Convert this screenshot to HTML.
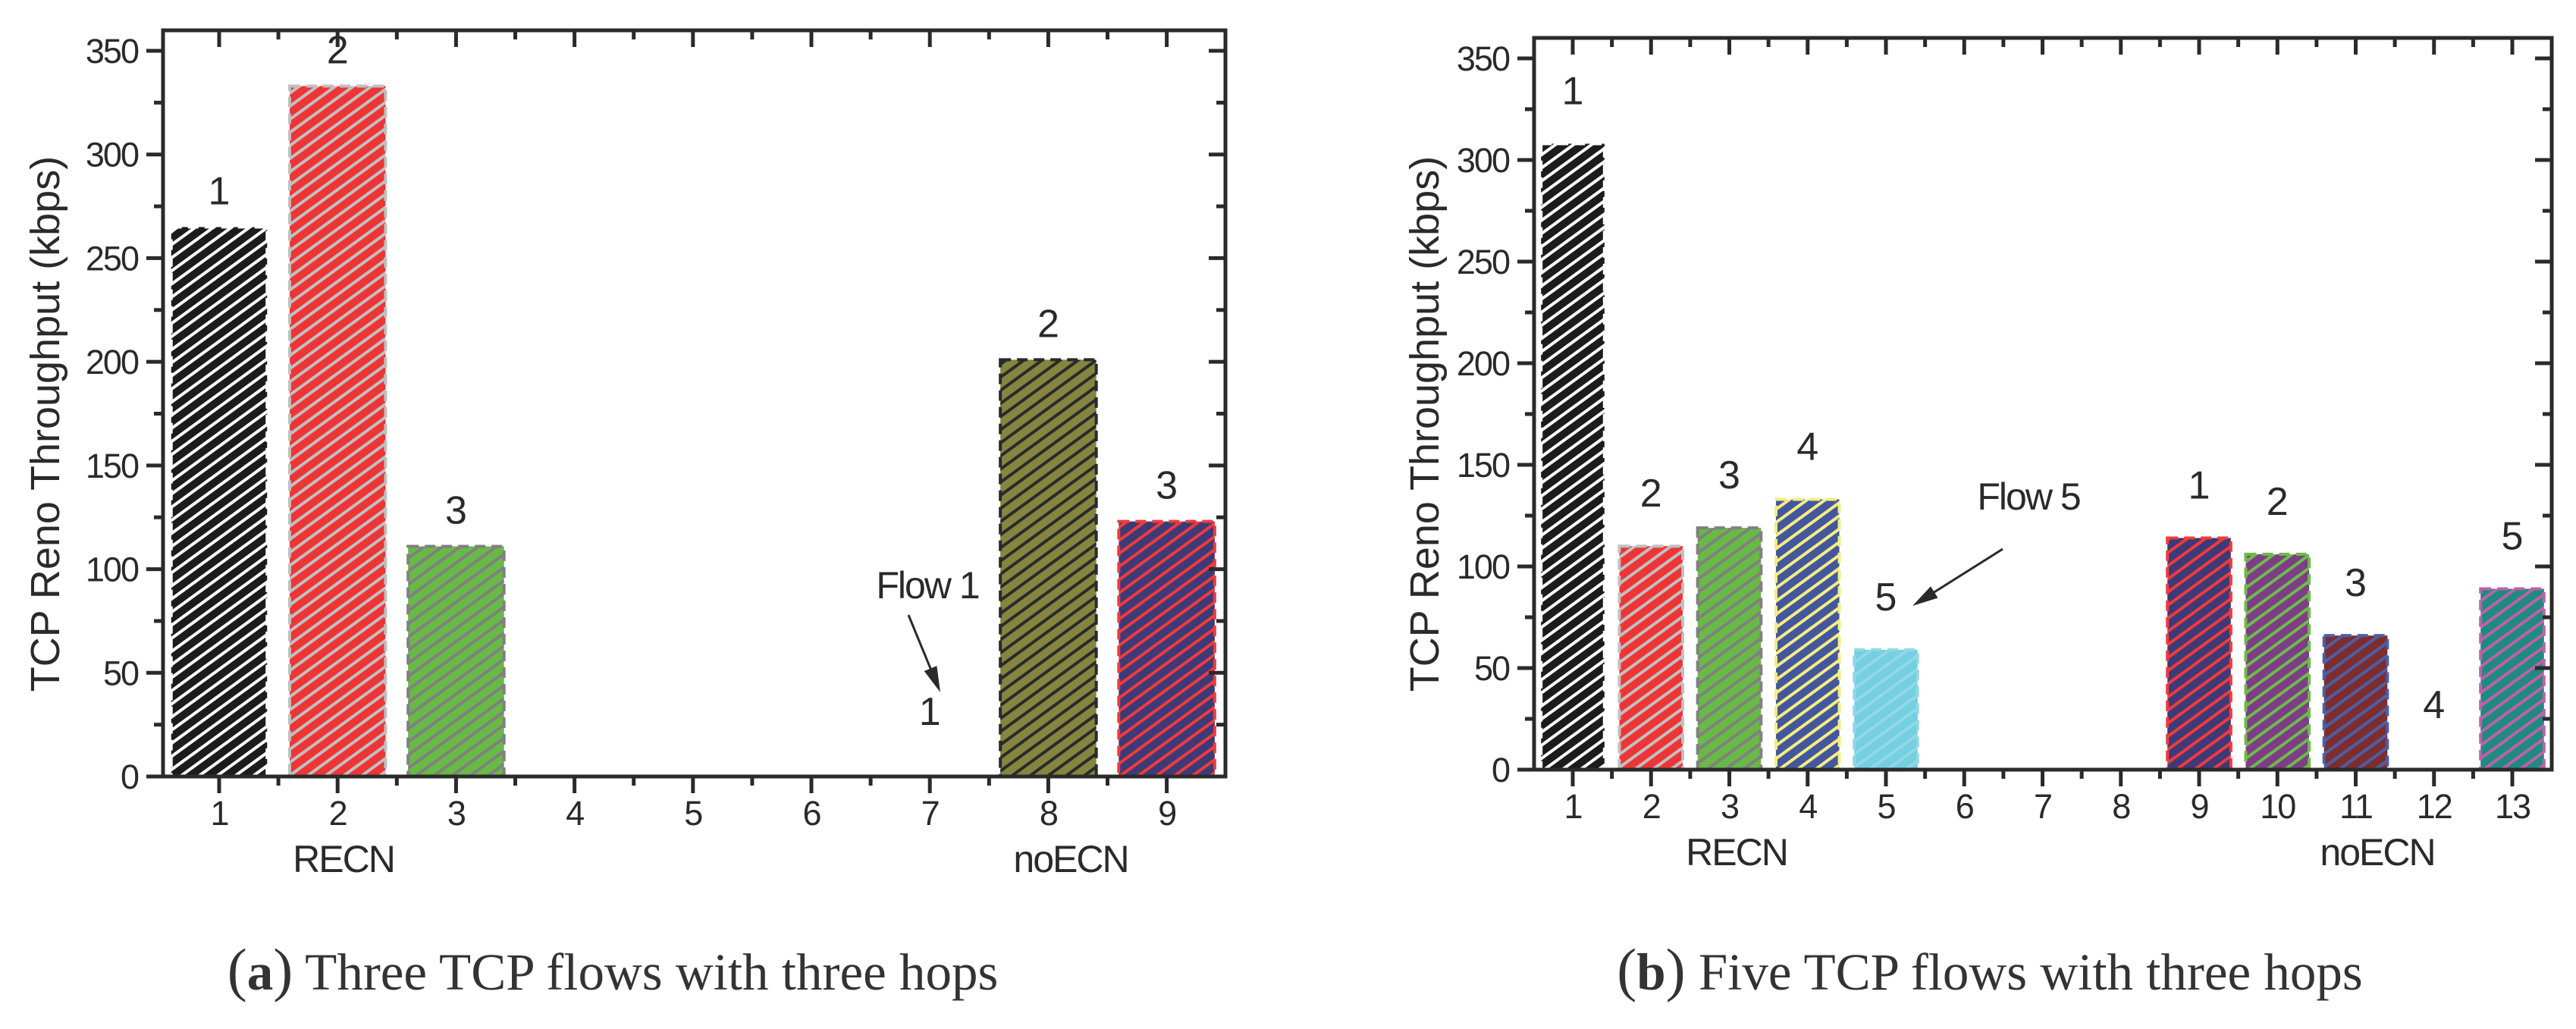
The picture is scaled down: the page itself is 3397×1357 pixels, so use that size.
<!DOCTYPE html>
<html><head><meta charset="utf-8"><style>
html,body{margin:0;padding:0;background:#fff;}
svg{display:block;}
text{font-family:"Liberation Sans",sans-serif;fill:#2a2a2a;}
.cap{font-family:"Liberation Serif",serif;fill:#333;}
</style></head><body>
<svg id="fig" width="3397" height="1357" viewBox="0 0 3397 1357" xmlns="http://www.w3.org/2000/svg">
<defs id="defs"></defs>
</svg>
<script>
// ----- chart (a) data -----
const catsA = [1,2,3,4,5,6,7,8,9];
const valsA = [265,333,111,0,0,0,0,201,123];
const labelsA = ["1","2","3","","","","1","2","3"];
const fillA = ["#1c1c1c","#ee3536","#68b946",null,null,null,null,"#858540","#3d3a78"];
const strA  = ["#ffffff","#c0c0c0","#808080",null,null,null,null,"#2a2a2a","#f23a3a"];
// ----- chart (b) data -----
const catsB = [1,2,3,4,5,6,7,8,9,10,11,12,13];
const valsB = [308,110,119,133,59,0,0,0,114,106,66,0,89];
const labelsB = ["1","2","3","4","5","","","","1","2","3","4","5"];
const fillB = ["#1c1c1c","#ee3536","#68b946","#44579e","#74cfe0",null,null,null,"#3d3a78","#7e3e86","#7e2d2e",null,"#1f8a80"];
const strB  = ["#ffffff","#c0c0c0","#808080","#f5ee80","#92d8e6",null,null,null,"#f23a3a","#6dbb4a","#4a5fa8",null,"#c060a8"];
const yTicks = [0,50,100,150,200,250,300,350];

const NS="http://www.w3.org/2000/svg";
const svg=document.getElementById('fig');
const defs=document.getElementById('defs');
function mk(tag,attrs,parent){const e=document.createElementNS(NS,tag);for(const k in attrs)e.setAttribute(k,attrs[k]);(parent||svg).appendChild(e);return e;}
let pid=0;
function pattern(bg,fg){
  const id='p'+(pid++);
  const p=mk('pattern',{id:id,patternUnits:'userSpaceOnUse',width:14,height:14,patternTransform:'rotate(-36)'},defs);
  mk('rect',{x:0,y:0,width:14,height:14,fill:bg},p);
  mk('rect',{x:0,y:0,width:14,height:4,fill:fg},p);
  return 'url(#'+id+')';
}

function chart(cfg){
  const g=mk('g',{});
  
  
  const xS=v=>cfg.x1+(v-1)*cfg.unit;
  const yS=v=>cfg.y0-v*cfg.py;
  const L=cfg.left,R=cfg.right,T=cfg.top,B=cfg.y0;
  cfg.cats.forEach((c,i)=>{
    if(cfg.fills[i] && cfg.vals[i]>0){
      const w=cfg.unit*0.81, x=xS(c)-w/2, y=yS(cfg.vals[i]);
      const r=mk('rect',{x:x,y:y,width:w,height:B-y,fill:pattern(cfg.fills[i],cfg.strs[i]),stroke:cfg.strs[i],'stroke-width':4,'stroke-dasharray':'14 8'},g);
      
      
    }
    if(cfg.labels[i]){
      const off=cfg.vals[i]>0?cfg.lblOff:86;
      const t=mk('text',{x:xS(c),y:yS(cfg.vals[i])-off+18,'font-size':52,'text-anchor':'middle'},g);
      t.textContent=cfg.labels[i];
      
      
    }
  });
  const f=mk('rect',{x:L,y:T,width:R-L,height:B-T,fill:'none',stroke:'#2a2a2a','stroke-width':5},g);
  
  
  for(let v=0;v<=375;v+=25){
    const y=yS(v); if(y<T+3)continue;
    const major=v%50===0, len=major?22:12;
    mk('line',{x1:L-len,x2:L,y1:y,y2:y,stroke:'#2a2a2a','stroke-width':5},g);
    mk('line',{x1:R,x2:R-len,y1:y,y2:y,stroke:'#2a2a2a','stroke-width':5},g);
  }
  yTicks.forEach(v=>{
    const t=mk('text',{x:L-33,y:yS(v)+16,'font-size':45,'text-anchor':'end','letter-spacing':-2},g);
    t.textContent=v;
    
    
  });
  for(let k=0;k<=cfg.cats.length*2;k++){
    const v=0.5+k*0.5; const x=xS(v); if(x<L+3||x>R-3)continue;
    const major=Number.isInteger(v), len=major?22:12;
    mk('line',{x1:x,x2:x,y1:B,y2:B+len,stroke:'#2a2a2a','stroke-width':5},g);
    mk('line',{x1:x,x2:x,y1:T,y2:T+len,stroke:'#2a2a2a','stroke-width':5},g);
  }
  cfg.cats.forEach(c=>{
    const t=mk('text',{x:xS(c),y:B+64,'font-size':45,'text-anchor':'middle','letter-spacing':-2},g);
    t.textContent=c;
    
    
  });
  [['RECN',cfg.recnX],['noECN',cfg.noecnX]].forEach(([s,x])=>{
    const t=mk('text',{x:x,y:B+126,'font-size':50,'text-anchor':'middle','letter-spacing':-2},g);
    t.textContent=s;
    
    
  });
  const yt=mk('text',{x:0,y:0,'font-size':54,'text-anchor':'middle',transform:`translate(${cfg.yTitleX},559) rotate(-90)`},g);
  yt.textContent='TCP Reno Throughput (kbps)';
  
  
  const a=cfg.ann;
  const at=mk('text',{x:a.tx,y:a.ty+18,'font-size':50,'text-anchor':'middle','letter-spacing':-2},g);
  at.textContent=a.text;
  
  
  const ang=Math.atan2(a.y2-a.y1,a.x2-a.x1);
  mk('line',{x1:a.x1,y1:a.y1,x2:a.x2-Math.cos(ang)*20,y2:a.y2-Math.sin(ang)*20,stroke:'#2a2a2a','stroke-width':3},g);
  const hx=a.x2,hy=a.y2,bx=a.x2-Math.cos(ang)*34,by=a.y2-Math.sin(ang)*34,px=-Math.sin(ang)*9,py=Math.cos(ang)*9;
  const ar=mk('polygon',{points:`${hx},${hy} ${bx+px},${by+py} ${bx-px},${by-py}`,fill:'#2a2a2a'},g);
  
  
  const cap=mk('text',{x:cfg.capX,y:1305,'font-size':69,'text-anchor':'middle',class:'cap'},g);
  cap.innerHTML='<tspan font-size="78">(</tspan><tspan font-weight="bold">'+cfg.capL+'</tspan><tspan font-size="78">)</tspan> '+cfg.capT;
  
  
}

chart({name:'chart-a',cats:catsA,vals:valsA,labels:labelsA,fills:fillA,strs:strA,
  left:215,right:1616,top:40,y0:1024,py:(1024-67)/350,x1:289,unit:156.2,lblOff:48,
  recnX:453,noecnX:1412,yTitleX:78,capX:808,capL:'a',capT:'Three TCP flows with three hops',
  ann:{text:'Flow 1',tx:1223,ty:771,x1:1198,y1:811,x2:1240,y2:913}});
chart({name:'chart-b',cats:catsB,vals:valsB,labels:labelsB,fills:fillB,strs:strB,
  left:2023,right:3365,top:50,y0:1015,py:(1015-77)/350,x1:2074,unit:103.25,lblOff:70,
  recnX:2290,noecnX:3135,yTitleX:1897,capX:2624,capL:'b',capT:'Five TCP flows with three hops',
  ann:{text:'Flow 5',tx:2675,ty:654,x1:2641,y1:724,x2:2522,y2:799}});
</script>
</body></html>
